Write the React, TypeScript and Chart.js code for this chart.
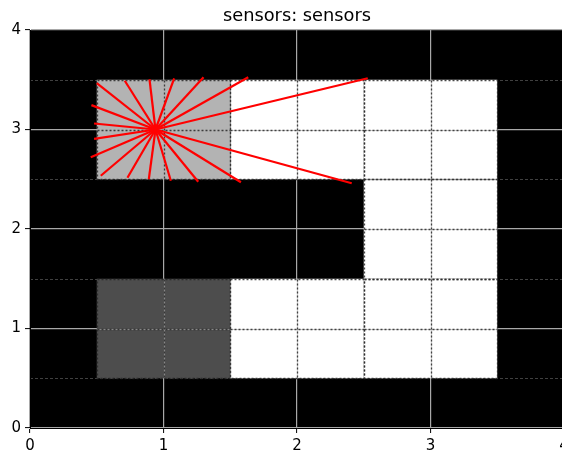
import { useEffect, useRef } from "react";
import { Chart, registerables } from "chart.js";

Chart.register(...registerables);

const chartTitle = "sensors: sensors";

// Axis ticks (major) and the half-step minor grid rows
const tickValues = [0, 1, 2, 3, 4];
const minorRows = [0.5, 1.5, 2.5, 3.5];

// Occupancy cells: centre coordinates (1 x 1 each) and shade
const cellX = [1, 2, 3, 3, 1, 2, 3];
const cellY = [3, 3, 3, 2, 1, 1, 1];
const cellShade = ["#b3b3b3", "#ffffff", "#ffffff", "#ffffff", "#4d4d4d", "#ffffff", "#ffffff"];

// Sensor origin and the end point of every range ray
const sensorX = 0.94;
const sensorY = 3.0;
const rayEndX = [2.53, 1.635, 1.3, 1.08, 0.895, 0.71, 0.5, 0.46, 0.48, 0.48, 0.455, 0.53, 0.73, 0.89, 1.055, 1.26, 1.58, 2.41];
const rayEndY = [3.515, 3.525, 3.525, 3.515, 3.505, 3.49, 3.465, 3.245, 3.06, 2.905, 2.72, 2.535, 2.515, 2.5, 2.485, 2.475, 2.47, 2.46];

const FONT = "'DejaVu Sans', sans-serif";

const mapPlugin = {
  id: "occupancyMap",
  beforeDraw(chart: any) {
    const { ctx, chartArea: a, scales } = chart;
    const y = scales.y;
    ctx.save();
    ctx.fillStyle = "#000000";
    ctx.fillRect(a.left, a.top, a.right - a.left, a.bottom - a.top);
    ctx.strokeStyle = "#505050";
    ctx.lineWidth = 0.8;
    ctx.setLineDash([3, 2]);
    for (const v of minorRows) {
      const py = Math.round(y.getPixelForValue(v)) + 0.5;
      ctx.beginPath();
      ctx.moveTo(a.left, py);
      ctx.lineTo(a.right, py);
      ctx.stroke();
    }
    ctx.restore();
  },
  beforeDatasetsDraw(chart: any) {
    const { ctx, scales } = chart;
    const x = scales.x;
    const y = scales.y;
    ctx.save();
    // cell fills
    for (let i = 0; i < cellX.length; i++) {
      const l = x.getPixelForValue(cellX[i] - 0.5);
      const r = x.getPixelForValue(cellX[i] + 0.5);
      const t = y.getPixelForValue(cellY[i] + 0.5);
      const b = y.getPixelForValue(cellY[i] - 0.5);
      ctx.fillStyle = cellShade[i];
      ctx.fillRect(l, t, r - l, b - t);
    }
    // translucent major grid over the cells
    ctx.strokeStyle = "rgba(176,176,176,0.6)";
    ctx.lineWidth = 1.2;
    for (let i = 0; i < cellX.length; i++) {
      const l = x.getPixelForValue(cellX[i] - 0.5);
      const r = x.getPixelForValue(cellX[i] + 0.5);
      const t = y.getPixelForValue(cellY[i] + 0.5);
      const b = y.getPixelForValue(cellY[i] - 0.5);
      const cx = Math.round(x.getPixelForValue(cellX[i])) + 0.5;
      const cy = Math.round(y.getPixelForValue(cellY[i])) + 0.5;
      ctx.beginPath();
      ctx.moveTo(cx, t);
      ctx.lineTo(cx, b);
      ctx.moveTo(l, cy);
      ctx.lineTo(r, cy);
      ctx.stroke();
    }
    // dotted outlines on the half-cell lattice
    ctx.strokeStyle = "rgba(40,40,40,0.85)";
    ctx.lineWidth = 1.3;
    ctx.setLineDash([2, 2]);
    for (let i = 0; i < cellX.length; i++) {
      const l = Math.round(x.getPixelForValue(cellX[i] - 0.5)) + 0.5;
      const r = Math.round(x.getPixelForValue(cellX[i] + 0.5)) + 0.5;
      const t = Math.round(y.getPixelForValue(cellY[i] + 0.5)) + 0.5;
      const b = Math.round(y.getPixelForValue(cellY[i] - 0.5)) + 0.5;
      const cx = Math.round(x.getPixelForValue(cellX[i])) + 0.5;
      const cy = Math.round(y.getPixelForValue(cellY[i])) + 0.5;
      ctx.beginPath();
      ctx.rect(l, t, r - l, b - t);
      ctx.moveTo(cx, t);
      ctx.lineTo(cx, b);
      ctx.moveTo(l, cy);
      ctx.lineTo(r, cy);
      ctx.stroke();
    }
    ctx.restore();
  },
  afterDraw(chart: any) {
    const { ctx, chartArea: a } = chart;
    ctx.save();
    ctx.fillStyle = "#000000";
    ctx.font = `17.8px ${FONT}`;
    ctx.textAlign = "center";
    ctx.textBaseline = "alphabetic";
    ctx.fillText(chartTitle, (a.left + a.right) / 2, a.top - 9);
    ctx.restore();
  },
};

export default function App() {
  const canvasRef = useRef<HTMLCanvasElement | null>(null);

  useEffect(() => {
    const canvas = canvasRef.current;
    if (!canvas) return;

    const datasets = rayEndX.map((ex, i) => ({
      label: `ray ${i}`,
      data: [
        { x: sensorX, y: sensorY },
        { x: ex, y: rayEndY[i] },
      ],
      showLine: true,
      borderColor: "#ff0000",
      borderWidth: 2.2,
      pointRadius: 0,
      fill: false,
    }));

    const axis = (extra: any) => ({
      type: "linear",
      min: tickValues[0],
      max: tickValues[tickValues.length - 1],
      afterBuildTicks(scale: any) {
        scale.ticks = tickValues.map((v) => ({ value: v }));
      },
      ticks: {
        color: "#000000",
        font: { family: FONT, size: 15 },
        padding: 4,
        maxRotation: 0,
        autoSkip: false,
      },
      grid: {
        color: "#a8a8a8",
        lineWidth: 1.2,
        tickLength: 5,
        tickColor: "#000000",
        tickWidth: 1,
      },
      border: { display: true, color: "#000000", width: 1 },
      ...extra,
    });

    const chart = new Chart(canvas, {
      type: "scatter",
      data: { datasets },
      options: {
        responsive: false,
        animation: false,
        layout: { padding: { top: 30, right: 16, left: 0, bottom: 0 } },
        plugins: {
          legend: { display: false },
          title: { display: false },
          tooltip: { enabled: false },
        },
        scales: {
          x: axis({
            afterFit(scale: any) {
              scale.height = 24;
            },
          }),
          y: axis({
            afterFit(scale: any) {
              scale.width = 30;
            },
          }),
        },
      },
      plugins: [mapPlugin],
    } as any);

    return () => chart.destroy();
  }, []);

  return (
    <div
      style={{
        position: "fixed",
        left: 0,
        top: 0,
        width: 562,
        height: 452,
        overflow: "hidden",
        background: "#ffffff",
      }}
    >
      <canvas ref={canvasRef} width={580} height={452} style={{ display: "block" }} />
    </div>
  );
}
